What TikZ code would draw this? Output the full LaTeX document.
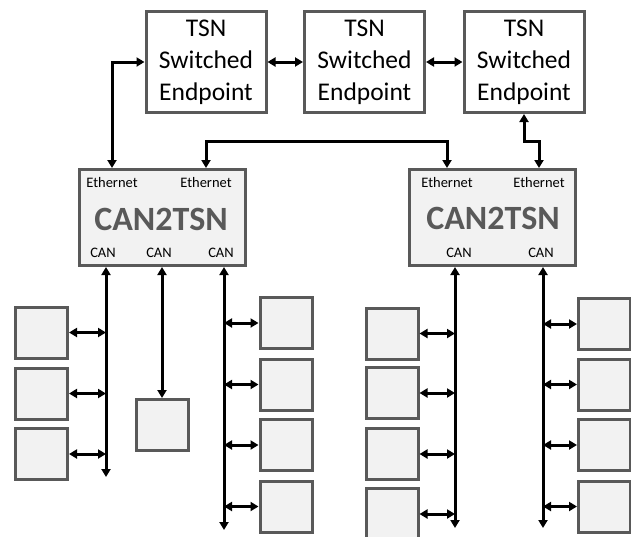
\documentclass[tikz,border=0pt]{standalone}
\usepackage{fontspec}
\setmainfont{Carlito}
\usetikzlibrary{arrows.meta}
\definecolor{edgegray}{HTML}{595959}
\definecolor{boxgray}{HTML}{F2F2F2}

\begin{document}
\begin{tikzpicture}[x=1pt,y=-1pt,
  tsnbox/.style={draw=edgegray,line width=3pt,fill=white,minimum width=120pt,minimum height=101pt,inner sep=0pt,align=center,font=\fontsize{25.5}{32}\selectfont,execute at begin node=\rule{0pt}{21pt}},
  gwbox/.style={draw=edgegray,line width=3pt,fill=boxgray,minimum width=166pt,minimum height=96pt,inner sep=0pt},
  ecu/.style={draw=edgegray,line width=3pt,fill=boxgray,minimum width=52pt,minimum height=51pt,inner sep=0pt},
  port/.style={anchor=base,inner sep=0pt,font=\fontsize{14.5}{16}\selectfont},
  gwname/.style={anchor=base,inner sep=0pt,text=edgegray,font=\fontsize{34}{40}\selectfont\bfseries},
  link/.style={line width=3pt,{Triangle[length=8pt,width=9pt]}-{Triangle[length=8pt,width=9pt]}}]
\useasboundingbox (0,0) rectangle (631,536);
\node[tsnbox] (t1) at (206,62) {TSN\\Switched\\Endpoint};
\node[tsnbox] (t2) at (364.5,62) {TSN\\Switched\\Endpoint};
\node[tsnbox] (t3) at (524,62) {TSN\\Switched\\Endpoint};
\node[gwbox] (g1) at (162.5,217.5) {};
\node[gwbox] (g2) at (492.5,217.5) {};
\node[port] (g1eth1) at (112,187) {Ethernet};
\node[port] (g1eth2) at (206,187) {Ethernet};
\node[port] (g1can1) at (103,257) {CAN};
\node[port] (g1can2) at (159,257) {CAN};
\node[port] (g1can3) at (221,257) {CAN};
\node[gwname] (g1name) at (161,230) {CAN2TSN};
\node[port] (g2eth1) at (447,187) {Ethernet};
\node[port] (g2eth2) at (539,187) {Ethernet};
\node[port] (g2can1) at (459,257) {CAN};
\node[port] (g2can2) at (541,257) {CAN};
\node[gwname] (g2name) at (493,229) {CAN2TSN};
\coordinate (bend) at (0,141);
\draw[link] (t1) -- (t2);
\draw[link] (t2) -- (t3);
\draw[link] (g1.north -| g1eth1) |- (t1.west);
\draw[link] (g1.north -| g1eth2) |- (bend -| g2eth1) -- (g2.north -| g2eth1);
\draw[link] (t3.south) |- (bend -| g2eth2) -- (g2.north -| g2eth2);
\coordinate (bus1) at (106,477);
\coordinate (bus3) at (224,530);
\coordinate (bus4) at (455,528);
\coordinate (bus5) at (543,528);
\node[ecu] (l1) at (41.5,332.5) {};
\node[ecu] (l2) at (41.5,393.5) {};
\node[ecu] (l3) at (41.5,454) {};
\node[ecu] (m1) at (162,425) {};
\node[ecu] (r1) at (286,323) {};
\node[ecu] (r2) at (286,384.5) {};
\node[ecu] (r3) at (286,445) {};
\node[ecu] (r4) at (286,506.5) {};
\node[ecu] (s1) at (392,333.5) {};
\node[ecu] (s2) at (392,393) {};
\node[ecu] (s3) at (392,454) {};
\node[ecu] (s4) at (392,514) {};
\node[ecu] (u1) at (604.5,324) {};
\node[ecu] (u2) at (604.5,384.5) {};
\node[ecu] (u3) at (604.5,445) {};
\node[ecu] (u4) at (604.5,506.5) {};
\draw[link] (g1.south -| bus1) -- (bus1);
\draw[link] (g1.south -| m1) -- (m1.north);
\draw[link] (g1.south -| bus3) -- (bus3);
\draw[link] (g2.south -| bus4) -- (bus4);
\draw[link] (g2.south -| bus5) -- (bus5);
\draw[link] (l1.east) -- (l1.east -| bus1);
\draw[link] (l2.east) -- (l2.east -| bus1);
\draw[link] (l3.east) -- (l3.east -| bus1);
\draw[link] (r1.west) -- (r1.west -| bus3);
\draw[link] (r2.west) -- (r2.west -| bus3);
\draw[link] (r3.west) -- (r3.west -| bus3);
\draw[link] (r4.west) -- (r4.west -| bus3);
\draw[link] (s1.east) -- (s1.east -| bus4);
\draw[link] (s2.east) -- (s2.east -| bus4);
\draw[link] (s3.east) -- (s3.east -| bus4);
\draw[link] (s4.east) -- (s4.east -| bus4);
\draw[link] (u1.west) -- (u1.west -| bus5);
\draw[link] (u2.west) -- (u2.west -| bus5);
\draw[link] (u3.west) -- (u3.west -| bus5);
\draw[link] (u4.west) -- (u4.west -| bus5);
\end{tikzpicture}
\end{document}
